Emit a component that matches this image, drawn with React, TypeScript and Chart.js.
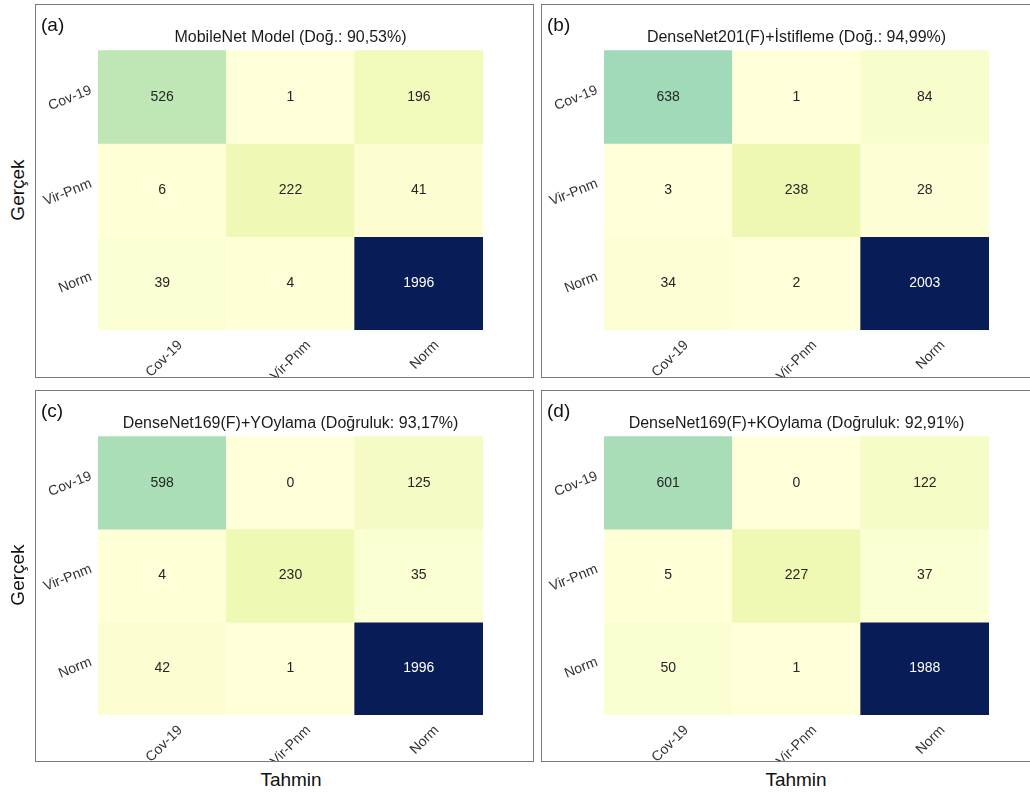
import React, { useEffect, useRef } from 'react';
import { Chart, registerables } from 'chart.js';

Chart.register(...registerables);

// ---------- data ----------
const classes = ['Cov-19', 'Vir-Pnm', 'Norm'];
const panelTags = ['(a)', '(b)', '(c)', '(d)'];
const panelTitles = [
  'MobileNet Model (Doğ.: 90,53%)',
  'DenseNet201(F)+İstifleme (Doğ.: 94,99%)',
  'DenseNet169(F)+YOylama (Doğruluk: 93,17%)',
  'DenseNet169(F)+KOylama (Doğruluk: 92,91%)',
];
const matrixA = [
  [526, 1, 196],
  [6, 222, 41],
  [39, 4, 1996],
];
const matrixB = [
  [638, 1, 84],
  [3, 238, 28],
  [34, 2, 2003],
];
const matrixC = [
  [598, 0, 125],
  [4, 230, 35],
  [42, 1, 1996],
];
const matrixD = [
  [601, 0, 122],
  [5, 227, 37],
  [50, 1, 1988],
];
const yAxisTitle = 'Gerçek';
const xAxisTitle = 'Tahmin';

// YlGnBu colour stops
const ylGnBu = ['#ffffd9', '#edf8b1', '#c7e9b4', '#7fcdbb', '#41b6c4', '#1d91c0', '#225ea8', '#253494', '#081d58'];

const FONT = "'Liberation Sans', Arial, Helvetica, sans-serif";

function hexToRgb(h: string) {
  return [parseInt(h.slice(1, 3), 16), parseInt(h.slice(3, 5), 16), parseInt(h.slice(5, 7), 16)];
}
function cmap(t: number) {
  const x = Math.max(0, Math.min(1, t)) * (ylGnBu.length - 1);
  const i = Math.min(ylGnBu.length - 2, Math.floor(x));
  const f = x - i;
  const a = hexToRgb(ylGnBu[i]);
  const b = hexToRgb(ylGnBu[i + 1]);
  const c = a.map((v, k) => Math.round(v + (b[k] - v) * f));
  return `rgb(${c[0]},${c[1]},${c[2]})`;
}

// ---------- layout ----------
const PANEL_W = 499;
const PANEL_LEFTS = [35, 541];
const PANEL_TOPS = [4, 390];
const PANEL_BOTTOMS = [377, 761];
const Y_AXIS_W = 62;
const CELLS_RIGHT = 447;
const TITLE_BLOCK = 45;
const CELLS_H = [280, 279];

type PanelProps = { tag: string; title: string; matrix: number[][]; left: number; top: number; height: number; cellsH: number };

function HeatmapPanel({ tag, title, matrix, left, top, height, cellsH }: PanelProps) {
  const ref = useRef<HTMLCanvasElement | null>(null);
  const innerW = PANEL_W - 2;
  const innerH = height - 2;

  useEffect(() => {
    const canvas = ref.current;
    if (!canvas) return;
    const vmax = Math.max(...matrix.flat());
    const xAxisH = innerH - TITLE_BLOCK - cellsH;

    const cellLabels = {
      id: 'cellLabels',
      afterDatasetsDraw(chart: any) {
        const ctx = chart.ctx;
        ctx.save();
        ctx.font = `14px ${FONT}`;
        ctx.textAlign = 'center';
        ctx.textBaseline = 'middle';
        chart.data.datasets.forEach((_: any, r: number) => {
          const meta = chart.getDatasetMeta(r);
          meta.data.forEach((el: any, c: number) => {
            const v = matrix[r][c];
            ctx.fillStyle = v / vmax > 0.6 ? '#ffffff' : '#262626';
            ctx.fillText(String(v), el.x, (el.y + el.base) / 2);
          });
        });
        ctx.restore();
      },
    };

    const chart = new Chart(canvas, {
      type: 'bar',
      data: {
        labels: classes,
        datasets: matrix.map((row, r) => ({
          label: classes[r],
          data: row.map(() => [r, r + 1]) as any,
          backgroundColor: row.map((v) => cmap(v / vmax)),
          borderWidth: 0,
          barPercentage: 1,
          categoryPercentage: 1,
          grouped: false,
        })),
      },
      options: {
        responsive: false,
        animation: false,
        events: [],
        layout: { padding: { left: 0, right: innerW - CELLS_RIGHT, top: 0, bottom: 0 } },
        plugins: {
          legend: { display: false },
          tooltip: { enabled: false },
          title: {
            display: true,
            text: title,
            fullSize: false,
            color: '#1a1a1a',
            font: { family: FONT, size: 16, weight: 'normal' },
            padding: { top: 23, bottom: 3 },
          },
        },
        scales: {
          x: {
            type: 'category',
            grid: { display: false, drawTicks: false },
            border: { display: false },
            ticks: {
              color: '#333333',
              font: { family: FONT, size: 14 },
              minRotation: 45,
              maxRotation: 45,
              padding: 7,
              labelOffset: 18,
              autoSkip: false,
            },
            afterFit: (s: any) => {
              s.height = xAxisH;
            },
          },
          y: {
            type: 'linear',
            min: 0,
            max: 3,
            reverse: true,
            grid: { display: false, drawTicks: false },
            border: { display: false },
            afterBuildTicks: (s: any) => {
              s.ticks = classes.map((_, i) => ({ value: i + 0.5 }));
            },
            ticks: {
              callback: (v: any) => classes[Math.floor(Number(v))],
              color: '#333333',
              font: { family: FONT, size: 14 },
              minRotation: 22,
              padding: 7,
              labelOffset: -7,
            },
            afterFit: (s: any) => {
              s.width = Y_AXIS_W;
            },
          },
        },
      } as any,
      plugins: [cellLabels],
    });
    return () => chart.destroy();
  }, [matrix, title, innerW, innerH, cellsH]);

  return (
    <div
      style={{
        position: 'absolute',
        left,
        top,
        width: PANEL_W,
        height,
        boxSizing: 'border-box',
        border: '1px solid #7a7a7a',
        overflow: 'hidden',
        background: '#fff',
      }}
    >
      <canvas ref={ref} width={innerW} height={innerH} style={{ display: 'block', width: innerW, height: innerH }} />
      <div
        style={{
          position: 'absolute',
          left: 5,
          top: 10,
          fontFamily: FONT,
          fontSize: 19,
          lineHeight: '20px',
          color: '#111',
        }}
      >
        {tag}
      </div>
    </div>
  );
}

const matrices = [matrixA, matrixB, matrixC, matrixD];

export default function App() {
  return (
    <div
      style={{
        position: 'absolute',
        left: 0,
        top: 0,
        width: 1030,
        height: 794,
        overflow: 'hidden',
        background: '#fff',
        fontFamily: FONT,
      }}
    >
      {matrices.map((m, i) => {
        const row = Math.floor(i / 2);
        const col = i % 2;
        return (
          <HeatmapPanel
            key={i}
            tag={panelTags[i]}
            title={panelTitles[i]}
            matrix={m}
            left={PANEL_LEFTS[col]}
            top={PANEL_TOPS[row]}
            height={PANEL_BOTTOMS[row] - PANEL_TOPS[row] + 1}
            cellsH={CELLS_H[row]}
          />
        );
      })}
      {[190, 575].map((cy, i) => (
        <div
          key={'g' + i}
          style={{
            position: 'absolute',
            left: 18,
            top: cy,
            transform: 'translate(-50%, -50%) rotate(-90deg)',
            fontSize: 19,
            color: '#111',
            whiteSpace: 'nowrap',
          }}
        >
          {yAxisTitle}
        </div>
      ))}
      {[291, 796].map((cx, i) => (
        <div
          key={'t' + i}
          style={{
            position: 'absolute',
            left: cx,
            top: 780,
            transform: 'translate(-50%, -50%)',
            fontSize: 19,
            color: '#111',
            whiteSpace: 'nowrap',
          }}
        >
          {xAxisTitle}
        </div>
      ))}
    </div>
  );
}
